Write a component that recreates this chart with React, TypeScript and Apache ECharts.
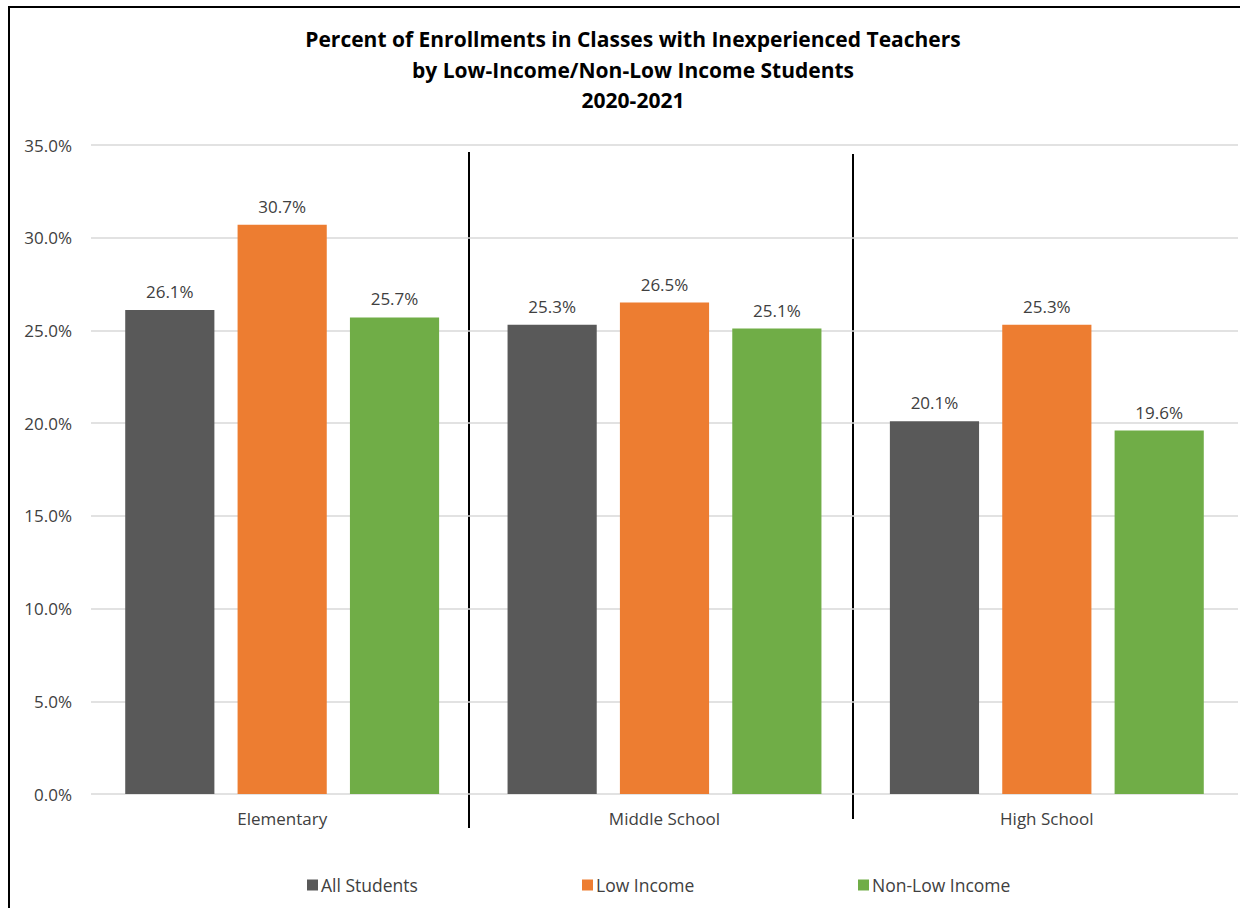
import React, { useEffect, useRef } from "react";
import * as echarts from "echarts";

const categories = ["Elementary", "Middle School", "High School"];
const allStudents = [26.1, 25.3, 20.1];
const lowIncome = [30.7, 26.5, 25.3];
const nonLowIncome = [25.7, 25.1, 19.6];
const seriesNames = ["All Students", "Low Income", "Non-Low Income"];
const colors = ["#595959", "#ED7D31", "#70AD47"];
const titleLines = [
  "Percent of Enrollments in Classes with Inexperienced Teachers",
  "by Low-Income/Non-Low Income Students",
  "2020-2021",
];

const FONT = "'Open Sans', 'Noto Sans', sans-serif";

export default function App() {
  const ref = useRef<HTMLDivElement>(null);
  useEffect(() => {
    if (!ref.current) return;
    const chart = echarts.init(ref.current, null, { renderer: "svg" });
    const values = [allStudents, lowIncome, nonLowIncome];
    const legendLefts = [302, 577, 853];
    chart.setOption({
      animation: false,
      backgroundColor: "#ffffff",
      textStyle: { fontFamily: FONT },
      title: {
        text: titleLines.join("\n"),
        left: 628,
        textAlign: "center",
        top: 19,
        textStyle: {
          fontFamily: FONT,
          fontSize: 21,
          fontWeight: "bold",
          color: "#000000",
          lineHeight: 30.5,
        },
      },
      legend: seriesNames.map((n, i) => ({
        data: [n],
        left: legendLefts[i],
        top: 871,
        itemWidth: 11,
        itemHeight: 11,
        itemGap: 0,
        icon: "rect",
        textStyle: { fontFamily: FONT, fontSize: 17.5, color: "#404040", padding: [0, 0, 0, -2] },
      })),
      grid: { left: 91, right: 2, top: 145, bottom: 114, containLabel: false },
      xAxis: {
        type: "category",
        data: categories,
        axisLine: { show: false },
        axisTick: { show: false },
        axisLabel: { fontFamily: FONT, fontSize: 17, color: "#404040", margin: 16 },
      },
      yAxis: {
        type: "value",
        min: 0,
        max: 35,
        interval: 5,
        axisLine: { show: false },
        axisTick: { show: false },
        splitLine: { lineStyle: { color: "#d9d9d9", width: 1.5 } },
        axisLabel: {
          fontFamily: FONT,
          fontSize: 17,
          color: "#404040",
          margin: 19,
          formatter: (v: number) => v.toFixed(1) + "%",
        },
      },
      series: seriesNames.map((n, i) => ({
        name: n,
        type: "bar",
        data: values[i],
        barGap: "26%",
        barCategoryGap: "17.9%",
        itemStyle: { color: colors[i] },
        label: {
          show: true,
          position: "top",
          distance: 10,
          fontFamily: FONT,
          fontSize: 17,
          color: "#404040",
          formatter: (p: any) => Number(p.value).toFixed(1) + "%",
        },
      })),
      graphic: [
        {
          type: "rect",
          shape: { x: 9, y: 7, width: 1260, height: 960 },
          style: { fill: "none", stroke: "#000000", lineWidth: 2 },
          silent: true,
        },
        {
          type: "line",
          shape: { x1: 469, y1: 152, x2: 469, y2: 828 },
          style: { stroke: "#000000", lineWidth: 2 },
          silent: true,
        },
        {
          type: "line",
          shape: { x1: 853, y1: 154, x2: 853, y2: 819 },
          style: { stroke: "#000000", lineWidth: 2 },
          silent: true,
        },
      ],
    });
    return () => chart.dispose();
  }, []);
  return (
    <div
      ref={ref}
      style={{ position: "fixed", left: 0, top: 0, width: 1240, height: 908 }}
    />
  );
}
